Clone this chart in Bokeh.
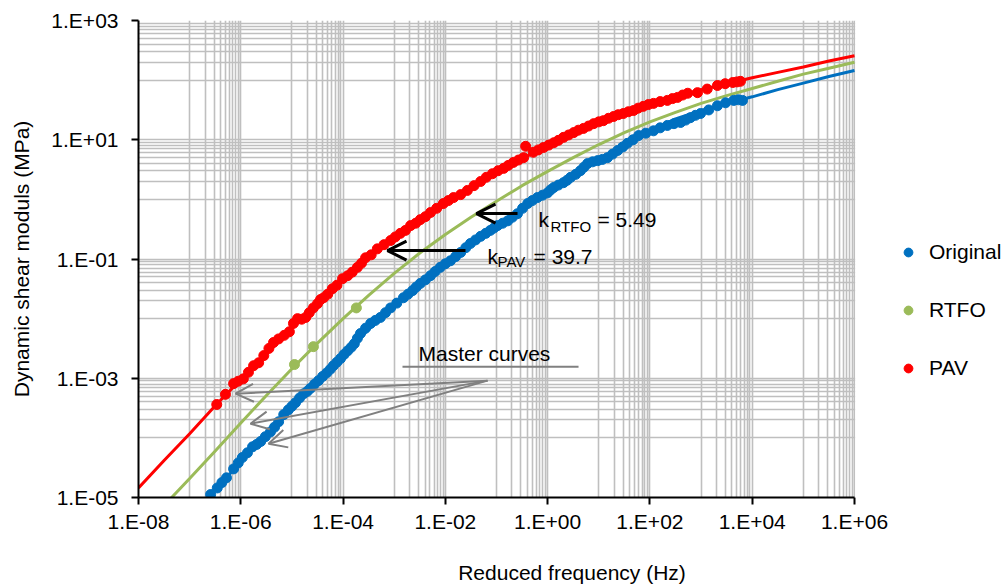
from bokeh.plotting import figure
from bokeh.models import (Range1d, FixedTicker, CustomJSTickFormatter, Legend, LegendItem,
                          Label, Arrow, OpenHead, BoxAnnotation)
from bokeh.embed import file_html
from bokeh.resources import INLINE

FONT = "Liberation Sans"

# ---------------- data (log10 values) ----------------
# Master curves: log10 reduced frequency (Hz) and log10 dynamic shear modulus (MPa)
orig_curve_logf = [-6.72, -6.5, -6.0, -5.5, -5.0, -4.5, -4.0, -3.5, -3.0, -2.5, -2.0, -1.5, -1.0, -0.5,
                   0.0, 0.5, 1.0, 1.5, 2.0, 2.5, 3.0, 3.5, 4.0, 4.5, 5.0, 5.5, 6.0]
orig_curve_logG = [-5.09, -4.88, -4.40, -3.96, -3.51, -3.06, -2.62, -2.18, -1.79, -1.43, -1.08, -0.75, -0.44, -0.14,
                   0.13, 0.40, 0.66, 0.91, 1.15, 1.35, 1.49, 1.61, 1.72, 1.84, 1.95, 2.06, 2.16]

rtfo_curve_logf = [-7.45, -7.0, -6.5, -6.0, -5.5, -5.0, -4.5, -4.0, -3.5, -3.0, -2.5, -2.0, -1.5, -1.0, -0.5,
                   0.0, 0.5, 1.0, 1.5, 2.0, 2.5, 3.0, 3.5, 4.0, 4.5, 5.0, 5.5, 6.0]
rtfo_curve_logG = [-5.09, -4.68, -4.22, -3.75, -3.29, -2.84, -2.41, -2.00, -1.61, -1.24, -0.90, -0.59, -0.30, -0.03, 0.23,
                   0.47, 0.70, 0.92, 1.12, 1.30, 1.46, 1.61, 1.74, 1.86, 1.98, 2.10, 2.20, 2.30]

pav_curve_logf = [-8.0, -7.5, -7.0, -6.5, -6.0, -5.5, -5.0, -4.5, -4.0, -3.5, -3.0, -2.5, -2.0, -1.5, -1.0, -0.5,
                  0.0, 0.5, 1.0, 1.5, 2.0, 2.5, 3.0, 3.5, 4.0, 4.5, 5.0, 5.5, 6.0]
pav_curve_logG = [-4.84, -4.38, -3.93, -3.46, -3.02, -2.59, -2.17, -1.75, -1.35, -0.98, -0.66, -0.37, -0.10, 0.16, 0.43, 0.68,
                  0.90, 1.10, 1.29, 1.46, 1.59, 1.72, 1.84, 1.94, 2.04, 2.13, 2.22, 2.32, 2.41]

# Measured points
orig_logf = [-6.59, -6.46, -6.28, -6.14, -5.97, -5.77, -5.61, -5.42, -5.26, -5.16, -5.07, -4.93, -4.77, -4.64,
             -4.48, -4.32, -4.19, -4.05, -3.91, -3.78, -3.66, -3.46, -3.27, -3.07, -2.82, -2.64, -2.49, -2.29,
             -2.10, -1.90, -1.70, -1.51, -1.31, -1.12, -0.98, -0.78, -0.59, -0.39, -0.20, 0.00, 0.12, 0.31,
             0.45, 0.64, 0.78, 0.98, 1.17, 1.37, 1.56, 1.78, 2.07, 2.34, 2.60, 2.79, 2.99, 3.32, 3.64, 3.81,
             -6.37, -6.05, -5.87, -5.69, -5.52, -5.34, -5.00, -4.85, -4.70, -4.56, -4.40, -4.25, -4.12, -3.98,
             -3.84, -3.72, -3.56, -3.37, -3.17, -2.95, -2.73, -2.57, -2.39, -2.20, -2.00, -1.80, -1.60, -1.41,
             -1.21, -1.05, -0.88, -0.69, -0.49, -0.30, -0.10, 0.06, 0.21, 0.38, 0.55, 0.71, 0.88, 1.07, 1.27,
             1.47, 1.67, 1.92, 2.20, 2.47, 2.70, 2.89, 3.15, 3.48, 3.73]
orig_logG = [-4.95, -4.84, -4.67, -4.52, -4.33, -4.15, -4.06, -3.90, -3.73, -3.61, -3.53, -3.41, -3.26, -3.17,
             -3.04, -2.91, -2.79, -2.67, -2.54, -2.42, -2.25, -2.08, -1.98, -1.82, -1.65, -1.53, -1.41, -1.28,
             -1.14, -1.03, -0.89, -0.74, -0.62, -0.52, -0.44, -0.36, -0.24, -0.07, 0.03, 0.11, 0.20, 0.28,
             0.37, 0.48, 0.60, 0.65, 0.70, 0.82, 0.94, 1.07, 1.15, 1.24, 1.29, 1.37, 1.44, 1.57, 1.66, 1.66,
             -4.75, -4.42, -4.25, -4.11, -3.98, -3.82, -3.47, -3.33, -3.22, -3.10, -2.97, -2.85, -2.73, -2.60,
             -2.48, -2.33, -2.16, -2.03, -1.90, -1.74, -1.59, -1.47, -1.35, -1.21, -1.08, -0.96, -0.81, -0.68,
             -0.57, -0.48, -0.40, -0.30, -0.15, -0.02, 0.07, 0.16, 0.24, 0.32, 0.42, 0.54, 0.63, 0.67, 0.76,
             0.88, 1.00, 1.11, 1.20, 1.27, 1.33, 1.41, 1.50, 1.62, 1.67]

rtfo_logf = [-4.95, -4.58, -3.74]
rtfo_logG = [-2.77, -2.47, -1.82]

pav_logf = [-6.47, -6.14, -5.95, -5.75, -5.65, -5.36, -5.26, -4.97, -4.89, -4.73, -4.58, -4.50, -4.38, -4.21,
            -4.01, -3.91, -3.72, -3.56, -3.33, -3.07, -2.88, -2.68, -2.49, -2.29, -2.04, -1.84, -1.57, -1.31,
            -1.08, -0.86, -0.67, -0.47, -0.43, -0.28, -0.08, 0.12, 0.31, 0.51, 0.70, 0.90, 1.09, 1.29, 1.48,
            1.68, 1.87, 2.07, 2.34, 2.54, 2.74, 2.93, 3.32, 3.62, 3.77,
            -6.30, -6.05, -5.85, -5.55, -5.45, -5.15, -5.05, -4.81, -4.66, -4.44, -4.30, -4.12, -3.82, -3.64,
            -3.45, -3.20, -2.98, -2.78, -2.58, -2.39, -2.17, -1.94, -1.70, -1.44, -1.20, -0.97, -0.77, -0.57,
            -0.18, 0.02, 0.21, 0.41, 0.60, 0.80, 1.00, 1.19, 1.38, 1.58, 1.77, 1.97, 2.20, 2.44, 2.64, 3.12,
            3.47, 3.70]
pav_logG = [-3.44, -3.09, -3.01, -2.79, -2.74, -2.40, -2.34, -2.08, -2.00, -1.98, -1.82, -1.75, -1.65, -1.50,
            -1.33, -1.28, -1.14, -0.98, -0.83, -0.69, -0.57, -0.44, -0.34, -0.22, -0.07, 0.03, 0.15, 0.30,
            0.43, 0.52, 0.62, 0.70, 0.89, 0.79, 0.87, 0.95, 1.04, 1.12, 1.19, 1.27, 1.32, 1.39, 1.44,
            1.49, 1.56, 1.61, 1.66, 1.71, 1.78, 1.79, 1.91, 1.96, 1.98,
            -3.27, -3.05, -2.90, -2.62, -2.50, -2.28, -2.22, -2.01, -1.90, -1.68, -1.59, -1.44, -1.22, -1.07,
            -0.93, -0.76, -0.63, -0.52, -0.40, -0.29, -0.15, -0.02, 0.08, 0.23, 0.37, 0.48, 0.57, 0.66,
            0.83, 0.91, 0.99, 1.08, 1.16, 1.23, 1.30, 1.36, 1.42, 1.47, 1.53, 1.59, 1.64, 1.69, 1.75, 1.85,
            1.94, 1.97]

series_names = ["Original", "RTFO", "PAV"]
series_colors = ["#0070C0", "#9BBB59", "#FF0000"]

x_major_exp = [-8, -6, -4, -2, 0, 2, 4, 6]
y_major_exp = [-5, -3, -1, 1, 3]


def pw(v):
    return [10.0 ** e for e in v]


# grid lines as in the original (log base 100 with minor lines in the upper decade)
x_grid = [10.0 ** e for e in x_major_exp] + [j * 10.0 ** (e + 1) for e in x_major_exp[:-1] for j in range(1, 10)]
y_grid = [10.0 ** e for e in y_major_exp] + [j * 10.0 ** (e + 1) for e in y_major_exp[:-1] for j in range(1, 10)]

# frame: 1e-8 .. 1e6 occupies 716 px; the frame is extended to the right to hold the legend
DEC = 716 / 14.0
FRAME_W = 867
X_END = 10 ** (-8 + FRAME_W / DEC)

p = figure(x_axis_type="log", y_axis_type="log",
           x_range=Range1d(1e-8, X_END), y_range=Range1d(1e-5, 1e3),
           frame_width=FRAME_W, frame_height=477,
           min_border_left=138, min_border_right=0, min_border_top=20, min_border_bottom=89,
           output_backend="svg", toolbar_location=None,
           background_fill_color="white", border_fill_color="white")
p.outline_line_color = None

fmt = CustomJSTickFormatter(code="""
const e = Math.round(Math.log10(tick));
const s = e < 0 ? "-" : "+";
const a = Math.abs(e);
return "1.E" + s + (a < 10 ? "0" : "") + a;
""")

for ax, exps in ((p.xaxis[0], x_major_exp), (p.yaxis[0], y_major_exp)):
    ax.ticker = FixedTicker(ticks=[10.0 ** e for e in exps], minor_ticks=[])
    ax.formatter = fmt
    ax.major_label_text_font = FONT
    ax.major_label_text_font_size = "21px"
    ax.major_label_text_color = "black"
    ax.axis_line_color = "black"
    ax.axis_line_width = 2
    ax.major_tick_line_color = "black"
    ax.major_tick_line_width = 2
    ax.major_tick_out = 7
    ax.major_tick_in = 0
    ax.minor_tick_out = 0
    ax.minor_tick_in = 0
    ax.axis_label_text_font = FONT
    ax.axis_label_text_font_size = "21px"
    ax.axis_label_text_font_style = "normal"
    ax.axis_label_text_color = "black"

p.xaxis.bounds = (1e-8, 1e6)
p.xaxis.axis_label = "Reduced frequency (Hz)"
p.yaxis.axis_label = "Dynamic shear moduls (MPa)"
p.xaxis.major_label_standoff = 5
p.xaxis.axis_label_standoff = 25
p.yaxis.major_label_standoff = 13
p.yaxis.axis_label_standoff = 15

p.xgrid.ticker = FixedTicker(ticks=x_grid)
p.ygrid.ticker = FixedTicker(ticks=y_grid)
for g in (p.xgrid, p.ygrid):
    g.grid_line_color = "#BFBFBF"
    g.grid_line_width = 1.6
    g.minor_grid_line_color = None

# master curves
p.line(pw(orig_curve_logf), pw(orig_curve_logG), line_color=series_colors[0], line_width=3)
p.line(pw(rtfo_curve_logf), pw(rtfo_curve_logG), line_color=series_colors[1], line_width=3)
p.line(pw(pav_curve_logf), pw(pav_curve_logG), line_color=series_colors[2], line_width=3)

# measured points
r_o = p.scatter(pw(orig_logf), pw(orig_logG), size=10, fill_color=series_colors[0], line_color=series_colors[0])
r_r = p.scatter(pw(rtfo_logf), pw(rtfo_logG), size=10, fill_color=series_colors[1], line_color=series_colors[1])
r_p = p.scatter(pw(pav_logf), pw(pav_logG), size=10, fill_color=series_colors[2], line_color=series_colors[2])

# white area right of the plot (legend area)
p.add_layout(BoxAnnotation(left=1.03e6, fill_color="white", fill_alpha=1.0, line_color=None))

# shift-factor arrows
for xs, xe, yy in ((10 ** -1.606, 10 ** -3.131, 10 ** -0.859), (10 ** -0.589, 10 ** -1.391, 10 ** -0.238)):
    p.add_layout(Arrow(x_start=xs, y_start=yy, x_end=xe, y_end=yy, line_color="black", line_width=3,
                       end=OpenHead(size=19, line_color="black", line_width=3)))

# master-curve pointer arrows
for xe, ye in ((-6.103, -3.259), (-5.810, -3.762), (-5.458, -4.098)):
    p.add_layout(Arrow(x_start=10 ** -1.176, y_start=10 ** -3.040, x_end=10 ** xe, y_end=10 ** ye,
                       line_color="#808080", line_width=2,
                       end=OpenHead(size=18, line_color="#808080", line_width=2)))
p.segment(x0=[10 ** -2.838], y0=[10 ** -2.806], x1=[10 ** 0.604], y1=[10 ** -2.806],
          line_color="#808080", line_width=2)


def lab(x, y, text, size):
    p.add_layout(Label(x=10 ** x, y=10 ** y, text=text, text_font=FONT, text_font_size=size,
                       text_color="black", text_align="left", text_baseline="middle"))


lab(-2.525, -2.587, "Master curves", "21px")
lab(-0.18, -0.339, "k", "21px")
lab(0.056, -0.448, "RTFO", "15px")
lab(0.975, -0.339, "= 5.49", "21px")
lab(-1.176, -0.951, "k", "21px")
lab(-0.980, -1.044, "PAV", "15px")
lab(-0.276, -0.951, "= 39.7", "21px")

legend = Legend(items=[LegendItem(label=series_names[0], renderers=[r_o]),
                       LegendItem(label=series_names[1], renderers=[r_r]),
                       LegendItem(label=series_names[2], renderers=[r_p])],
                location=(759, 117), orientation="vertical",
                glyph_width=22, glyph_height=24, label_height=24, label_standoff=10, spacing=34,
                padding=0, margin=0, border_line_color=None, background_fill_alpha=0,
                label_text_font=FONT, label_text_font_size="21px", label_text_color="black")
p.add_layout(legend)

open("out.html", "w").write(file_html(p, INLINE))
